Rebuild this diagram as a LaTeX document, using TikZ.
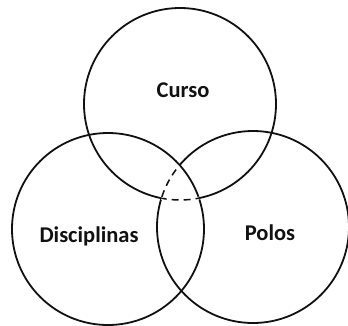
\documentclass[tikz,border=0pt]{standalone}
\usepackage{fontspec}
\setsansfont{Carlito}
\usetikzlibrary{positioning}
\definecolor{inkblack}{HTML}{111111}

\begin{document}
\begin{tikzpicture}[
    x=1pt, y=-1pt,
    set/.style={
        draw=inkblack, line width=1.8pt, circle, minimum size=192pt,
        inner sep=0pt
    },
    setlabel/.style={font=\sffamily\bfseries\fontsize{22.5}{26}\selectfont, text=inkblack},
    hidden/.style={draw=white, line width=3pt},
    dashedarc/.style={draw=inkblack, line width=1.5pt, dashed, dash pattern=on 7pt off 5pt}
]
\useasboundingbox (0,0) rectangle (348,325);

\node[set] (curso) at (180,104) {};
\node[set] (disc)  at (108,229) {};
\node[set] (polos) at (253,227) {};

% parts of the outlines inside the common region look broken
\begin{scope}
    \clip (disc.center) circle (96pt);
    \clip (polos.center) circle (96pt);
    \draw[hidden] (curso.center) circle (96pt);
    \draw[dashedarc] (curso.center) circle (96pt);
\end{scope}
\begin{scope}
    \clip (disc.center) circle (95pt);
    \clip (curso.center) circle (95pt);
    \draw[hidden] (polos.center) circle (96pt);
    \draw[dashedarc] (polos.center) circle (96pt);
\end{scope}

\node[setlabel] (lcurso) at (183,90)  {Curso};
\node[setlabel] (ldisc)  at (89,236)  {Disciplinas};
\node[setlabel] (lpolos) at (270,233) {Polos};

\end{tikzpicture}
\end{document}
